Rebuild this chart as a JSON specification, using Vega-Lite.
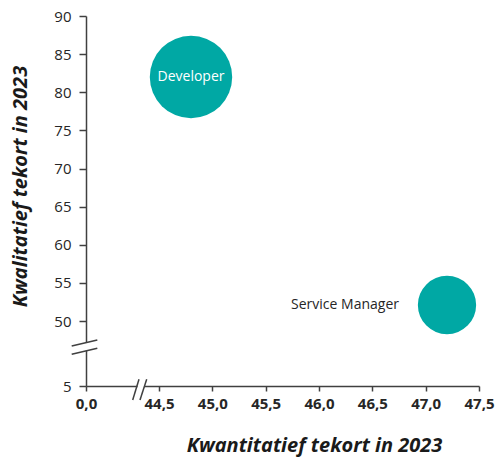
{
  "$schema": "https://vega.github.io/schema/vega-lite/v6.json",
  "width": 393,
  "height": 370,
  "autosize": {"type": "none"},
  "padding": {"left": 86, "top": 16, "right": 16, "bottom": 72},
  "background": "white",
  "config": {"font": "Open Sans", "view": {"stroke": null}},
  "datasets": {
    "functies": [
      {"functie": "Developer", "kwantitatief": 44.8, "kwalitatief": 82, "omvang": 200},
      {"functie": "Service Manager", "kwantitatief": 47.2, "kwalitatief": 52.1, "omvang": 100}
    ],
    "breukGat": [
      {"kwantitatief": 0, "kwalitatief": 34.77, "kwantitatief2": 0, "kwalitatief2": 29.51},
      {"kwantitatief": 31.4, "kwalitatief": 5, "kwantitatief2": 35.36, "kwalitatief2": 5}
    ],
    "breukLijnen": [
      {"kwantitatief": -8.72, "kwalitatief": 32.69, "kwantitatief2": 6.89, "kwalitatief2": 36.85},
      {"kwantitatief": -8.72, "kwalitatief": 26.95, "kwantitatief2": 6.89, "kwalitatief2": 31.1},
      {"kwantitatief": 28.47, "kwalitatief": -4.69, "kwantitatief2": 32.31, "kwalitatief2": 9.64},
      {"kwantitatief": 32.92, "kwalitatief": -4.69, "kwantitatief2": 37.0, "kwalitatief2": 9.64}
    ]
  },
  "encoding": {
    "x": {
      "field": "kwantitatief",
      "type": "quantitative",
      "scale": {"domain": [0, 44.5, 47.5], "range": [0, 73, 393], "zero": false, "nice": false},
      "axis": {
        "title": "Kwantitatief tekort in 2023",
        "values": [0, 44.5, 45, 45.5, 46, 46.5, 47, 47.5],
        "labelExpr": "replace(format(datum.value, '.1f'), '.', ',')",
        "grid": false,
        "domainColor": "#404040",
        "domainWidth": 1.5,
        "tickColor": "#404040",
        "tickWidth": 1.5,
        "tickSize": 5,
        "labelFontSize": 15,
        "labelFontWeight": "bold",
        "labelColor": "#262626",
        "labelPadding": 5,
        "labelFlush": false,
        "labelOverlap": false,
        "titleFontSize": 20,
        "titleFontStyle": "italic",
        "titleFontWeight": "bold",
        "titleColor": "#1a1a1a",
        "titleX": 228,
        "titleY": 59,
        "titleAlign": "center",
        "titleBaseline": "middle"
      }
    },
    "y": {
      "field": "kwalitatief",
      "type": "quantitative",
      "scale": {"domain": [5, 50, 90], "range": [370, 305, 0], "zero": false, "nice": false},
      "axis": {
        "title": "Kwalitatief tekort in 2023",
        "values": [5, 50, 55, 60, 65, 70, 75, 80, 85, 90],
        "grid": false,
        "domainColor": "#404040",
        "domainWidth": 1.5,
        "tickColor": "#404040",
        "tickWidth": 1.5,
        "tickSize": 7,
        "labelFontSize": 15,
        "labelColor": "#262626",
        "labelPadding": 8,
        "labelFlush": false,
        "labelOverlap": false,
        "titleFontSize": 20,
        "titleFontStyle": "italic",
        "titleFontWeight": "bold",
        "titleColor": "#1a1a1a",
        "titleX": -66,
        "titleY": 170,
        "titleAlign": "center",
        "titleBaseline": "middle"
      }
    }
  },
  "layer": [
    {
      "data": {"name": "breukGat"},
      "mark": {"type": "rule", "color": "white", "strokeWidth": 5},
      "encoding": {
        "x2": {"field": "kwantitatief2"},
        "y2": {"field": "kwalitatief2"}
      }
    },
    {
      "data": {"name": "breukLijnen"},
      "mark": {"type": "rule", "color": "#404040", "strokeWidth": 1.5},
      "encoding": {
        "x2": {"field": "kwantitatief2"},
        "y2": {"field": "kwalitatief2"}
      }
    },
    {
      "data": {"name": "functies"},
      "mark": {"type": "circle", "color": "#00a8a4", "opacity": 1},
      "encoding": {
        "size": {
          "field": "omvang",
          "type": "quantitative",
          "scale": {"domain": [0, 200], "range": [0, 6790]},
          "legend": null
        }
      }
    },
    {
      "data": {"name": "functies"},
      "transform": [{"filter": "datum.functie == 'Developer'"}],
      "mark": {"type": "text", "color": "white", "fontSize": 14, "align": "center", "baseline": "middle"},
      "encoding": {"text": {"field": "functie"}}
    },
    {
      "data": {"name": "functies"},
      "transform": [{"filter": "datum.functie == 'Service Manager'"}],
      "mark": {"type": "text", "color": "#262626", "fontSize": 14, "align": "right", "baseline": "middle", "dx": -48},
      "encoding": {"text": {"field": "functie"}}
    }
  ]
}
